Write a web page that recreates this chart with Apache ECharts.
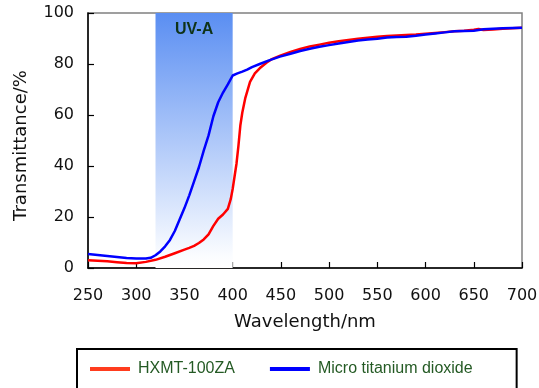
<!DOCTYPE html>
<html>
<head>
<meta charset="utf-8">
<script src="https://cdn.jsdelivr.net/npm/echarts@6/dist/echarts.min.js"></script>
<style>html,body{margin:0;padding:0;background:#fff;}#c{width:539px;height:388px;}</style>
</head>
<body>
<div id="c"></div>
<script>
var wavelengthsRed = [250,260,270,280,290,300,310,320,330,340,350,355,360,365,370,375,380,385,390,395,398,400,402,404,406,408,410,413,418,423,428,435,440,450,460,470,480,490,500,510,520,530,540,550,560,570,580,590,600,610,620,630,640,650,655,660,670,680,690,700];
var hxmtValues = [3.0,2.8,2.6,2.3,2.0,1.9,2.4,3.2,4.4,5.8,7.2,7.9,8.7,9.8,11.2,13.2,16.5,19.3,21.0,23.2,27,31,36,41,48,56,61,66.5,73,76.3,78.3,80.5,81.8,83.4,84.7,85.9,86.9,87.6,88.3,88.9,89.4,89.9,90.3,90.7,91.0,91.2,91.4,91.6,91.9,92.2,92.5,92.8,93.0,93.4,93.7,93.3,93.5,93.8,94.0,94.2];
var wavelengthsBlue = [250,260,270,280,290,300,310,315,320,325,330,335,340,345,350,355,360,365,370,375,380,385,390,395,400,405,410,415,420,428,437,449,460,470,480,490,500,510,520,530,540,550,560,570,580,590,600,610,620,630,640,650,660,670,680,690,700];
var microTiO2Values = [5.5,5.1,4.7,4.3,3.9,3.7,3.7,4.0,5.0,6.5,8.5,11,14.5,19,23.5,28.5,34,39.5,46,52,59.5,65,68.8,72,75.5,76.3,77,77.8,78.8,80,81.3,82.9,84,85.1,86,86.8,87.4,88.0,88.6,89.2,89.6,89.9,90.4,90.6,90.7,91.1,91.6,92.0,92.4,92.8,92.9,93.0,93.6,93.8,94.0,94.1,94.2];
var uvaRange = [320, 400];
var seriesNames = ['HXMT-100ZA', 'Micro titanium dioxide'];

function pairs(xs, ys) { return xs.map(function (x, i) { return [x, ys[i]]; }); }

var chart = echarts.init(document.getElementById('c'), null, {renderer: 'canvas'});
var labelFont = 'DejaVu Sans';
chart.setOption({
  animation: false,
  backgroundColor: '#fff',
  grid: {left: 88, right: 17, top: 13, bottom: 120, show: true, borderColor: '#808080', borderWidth: 1.5, outerBoundsMode: 'none'},
  xAxis: {
    type: 'value', min: 250, max: 700, interval: 50,
    name: 'Wavelength/nm', nameLocation: 'middle', nameGap: 45,
    nameTextStyle: {fontFamily: labelFont, fontSize: 18, color: '#111'},
    axisLine: {show: true, lineStyle: {color: '#000', width: 1.5}},
    axisTick: {show: true, inside: true, length: 6, lineStyle: {color: '#000', width: 1.2}},
    axisLabel: {fontFamily: labelFont, fontSize: 16, color: '#111', margin: 20},
    splitLine: {show: false}
  },
  yAxis: {
    type: 'value', min: 0, max: 100, interval: 20,
    name: 'Transmittance/%', nameLocation: 'middle', nameGap: 58,
    nameTextStyle: {fontFamily: labelFont, fontSize: 18, color: '#111', padding: [0, 10, 0, 0]},
    axisLine: {show: true, lineStyle: {color: '#000', width: 1.5}},
    axisTick: {show: true, inside: true, length: 6, lineStyle: {color: '#000', width: 1.2}},
    axisLabel: {fontFamily: labelFont, fontSize: 16, color: '#111', margin: 14},
    splitLine: {show: false}
  },
  legend: {
    left: 77, top: 349,
    padding: [12, 44, 24, 13],
    itemGap: 35, itemWidth: 40, itemHeight: 4,
    borderColor: '#000', borderWidth: 2,
    icon: 'rect',
    textStyle: {fontFamily: 'Liberation Sans', fontSize: 16, color: '#245a24', padding: [0, 0, 0, 3]},
    data: [
      {name: seriesNames[0], itemStyle: {color: '#ff3c1e'}},
      {name: seriesNames[1], itemStyle: {color: '#0000ff'}}
    ]
  },
  series: [
    {
      name: seriesNames[0], type: 'line', showSymbol: false, smooth: false,
      data: pairs(wavelengthsRed, hxmtValues),
      lineStyle: {color: '#ff0000', width: 2.5}, itemStyle: {color: '#ff0000'},
      z: 3,
      markArea: {
        silent: true,
        itemStyle: {
          color: new echarts.graphic.LinearGradient(0, 0, 0, 1, [
            {offset: 0, color: '#5a8ef2'},
            {offset: 0.95, color: '#fafcff'},
            {offset: 1, color: '#ffffff'}
          ])
        },
        label: {show: true, position: 'insideTop', distance: 9, formatter: 'UV-A',
          fontFamily: 'Liberation Sans', fontWeight: 'bold', fontSize: 16, color: '#0f3318'},
        data: [[{xAxis: uvaRange[0], yAxis: 100}, {xAxis: uvaRange[1], yAxis: 0}]]
      }
    },
    {
      name: seriesNames[1], type: 'line', showSymbol: false, smooth: false,
      data: pairs(wavelengthsBlue, microTiO2Values),
      lineStyle: {color: '#0000ff', width: 2.5}, itemStyle: {color: '#0000ff'},
      z: 4
    }
  ]
});
</script>
</body>
</html>
